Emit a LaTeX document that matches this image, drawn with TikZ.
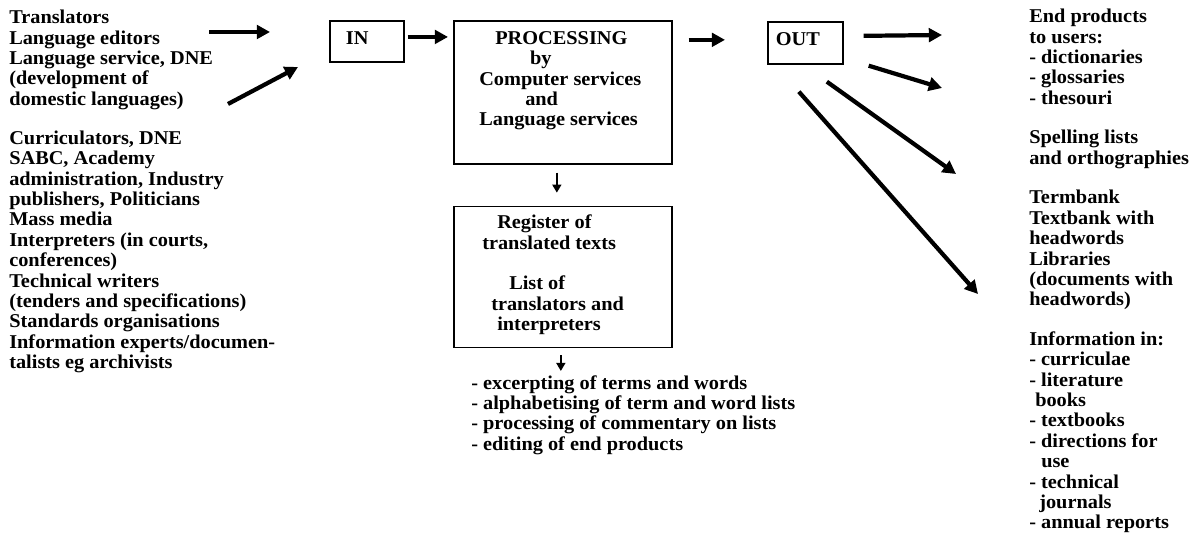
\documentclass[tikz,border=0pt]{standalone}
\usepackage{fontspec}
\setmainfont{Liberation Serif}[FakeStretch=1.04]
\usetikzlibrary{arrows.meta,positioning}

\tikzset{
  box/.style={draw, line width=1.2pt, inner sep=0pt},
  txt/.style={align=left, inner sep=0pt, anchor=north west},
  bigarr/.style={line width=3pt, -{Triangle[length=0.33cm,width=0.34cm]}},
  smallarr/.style={line width=1.3pt, -{Triangle[length=0.2cm,width=0.22cm]}}
}

\begin{document}
\begin{tikzpicture}[font=\fontsize{13.9pt}{14.5pt}\selectfont\bfseries]
  \useasboundingbox (0,0) rectangle (29.775,-13.4);

  % Cajas
  \node[box, anchor=north west, minimum width=1.85cm, minimum height=1.025cm,
        inner xsep=0.4cm, text width=1.05cm, text depth=0.175cm, align=left]
        (in) at (8.225,-0.5) {IN};
  \node[box, anchor=north west, minimum width=5.45cm, minimum height=3.575cm]
        (proc) at (11.325,-0.5) {};
  \node[box, minimum width=5.45cm, minimum height=3.525cm, below=1.025cm of proc]
        (reg) {};
  \node[box, anchor=north west, minimum width=1.875cm, minimum height=1.05cm,
        inner xsep=0.2cm, text width=1.475cm, text depth=0.2cm, align=left]
        (out) at (19.175,-0.525) {OUT};

  % Textos de las cajas
  \node[txt] (proctxt) at ([shift={(0.65,-0.28)}]proc.north west)
    {\hspace*{0.4cm}PROCESSING\\
     \hspace*{1.27cm}by\\
     Computer services\\
     \hspace*{1.15cm}and\\
     Language services};
  \node[txt] (regtxt) at ([shift={(0.725,-0.225)}]reg.north west)
    {\hspace*{0.375cm}Register of\\
     translated texts\\[14.5pt]
     \hspace*{0.675cm}List of\\
     \hspace*{0.225cm}translators and\\
     \hspace*{0.375cm}interpreters};

  % Columna izquierda
  \node[txt] (users) at (0.225,-0.25)
    {Translators\\
     Language editors\\
     Language service, DNE\\
     (development of\\
     domestic languages)\\[0.465cm]
     Curriculators, DNE\\
     SABC, Academy\\
     administration, Industry\\
     publishers, Politicians\\
     Mass media\\
     Interpreters (in courts,\\
     conferences)\\
     Technical writers\\
     (tenders and specifications)\\
     Standards organisations\\
     Information experts/documen-\\
     talists eg archivists};

  % Lista bajo el registro
  \node[txt] (lst) at (11.775,-9.375)
    {- excerpting of terms and words\\
     - alphabetising of term and word lists\\
     - processing of commentary on lists\\
     - editing of end products};

  % Columna derecha
  \node[txt] (prods) at (25.725,-0.225)
    {End products\\
     to users:\\
     - dictionaries\\
     - glossaries\\
     - thesouri\\[0.48cm]
     Spelling lists\\
     and orthographies\\[0.48cm]
     Termbank\\
     Textbank with\\
     headwords\\
     Libraries\\
     (documents with\\
     headwords)\\[0.48cm]
     Information in:\\
     - curriculae\\
     - literature\\
     \hspace*{0.15cm}books\\
     - textbooks\\
     - directions for\\
     \hspace*{0.3cm}use\\
     - technical\\
     \hspace*{0.25cm}journals\\
     - annual reports};

  % Flechas de entrada
  \coordinate (in1) at (6.75,-0.8);
  \coordinate (in2) at (7.45,-1.675);
  \draw[bigarr] (5.225,-0.8) -- (in1);
  \draw[bigarr] (5.7,-2.6) -- (in2);

  % Flechas principales
  \draw[bigarr, shorten <=0.075cm, shorten >=0.125cm]
    ([yshift=0.11cm]in.east) -- ([yshift=0.11cm]in.east -| proc.west);
  \draw[bigarr, shorten <=0.4cm, shorten >=1.05cm]
    ([yshift=0.075cm]out.west -| proc.east) -- ([yshift=0.075cm]out.west);
  \draw[smallarr, shorten <=0.2cm, shorten >=0.325cm]
    ([xshift=-0.15cm]proc.south) -- ([xshift=-0.15cm]proc.south |- reg.north);
  \draw[smallarr, shorten <=0.175cm, shorten >=0.1cm]
    ([xshift=-0.05cm]reg.south) -- ([xshift=-0.05cm]reg.south |- lst.north);

  % Flechas de salida
  \coordinate (o1) at (23.55,-0.875);
  \coordinate (o2) at (23.55,-2.2);
  \coordinate (o3) at (23.9,-4.35);
  \coordinate (o4) at (24.45,-7.35);
  \draw[bigarr] (out.east) ++(0.5,0.175) -- (o1);
  \draw[bigarr] (out.south east) ++(0.625,-0.025) -- (o2);
  \draw[bigarr] (out.south) ++(0.5375,-0.425) -- (o3);
  \draw[bigarr] (out.south) ++(-0.1625,-0.675) -- (o4);
\end{tikzpicture}
\end{document}
